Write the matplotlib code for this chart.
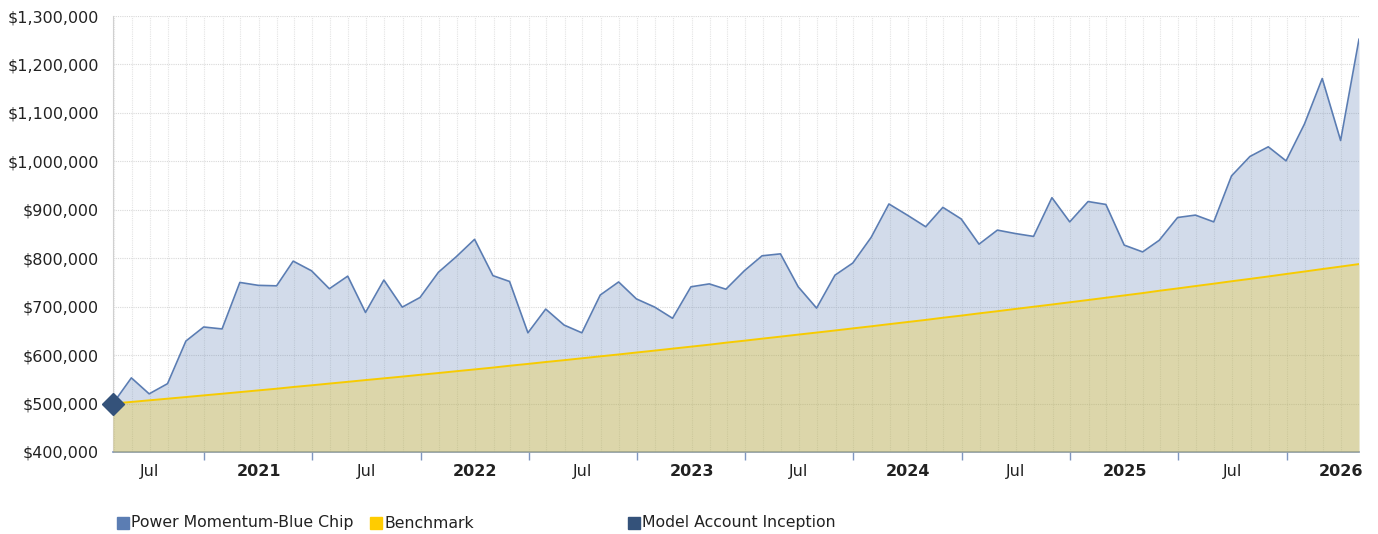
import matplotlib
matplotlib.use('Agg')
import matplotlib.pyplot as plt
import matplotlib.dates as mdates
from matplotlib.patches import Rectangle
from matplotlib.ticker import FuncFormatter, FixedLocator
import numpy as np
import pandas as pd

# month-end values, Apr 2020 .. Jan 2026 (in thousands of dollars)
dates = pd.date_range('2020-04-30', periods=70, freq='ME')
portfolio = [500, 553, 520, 541, 629, 658, 654, 750, 744, 743,
             794, 774, 737, 763, 688, 755, 699, 719, 771, 803,
             839, 764, 752, 646, 695, 662, 646, 724, 751, 716,
             699, 676, 741, 747, 736, 774, 805, 809, 741, 697,
             765, 790, 843, 912, 889, 865, 905, 881, 829, 858,
             851, 845, 925, 875, 917, 911, 827, 813, 837, 884,
             889, 875, 970, 1010, 1030, 1001, 1077, 1171, 1043, 1252]
benchmark = [500.0, 503.3, 506.6, 510.0, 513.4, 516.8, 520.2, 523.6, 527.1, 530.6,
             534.1, 537.6, 541.2, 544.8, 548.4, 552.0, 555.6, 559.3, 563.0, 566.7,
             570.4, 574.2, 578.0, 581.8, 585.7, 589.5, 593.4, 597.4, 601.3, 605.3,
             609.3, 613.3, 617.4, 621.5, 625.6, 629.7, 633.9, 638.1, 642.3, 646.5,
             650.8, 655.1, 659.4, 663.8, 668.2, 672.6, 677.1, 681.5, 686.1, 690.6,
             695.2, 699.8, 704.4, 709.0, 713.7, 718.4, 723.2, 728.0, 732.8, 737.6,
             742.5, 747.4, 752.4, 757.3, 762.3, 767.4, 772.5, 777.6, 782.7, 787.9]
portfolio = np.array(portfolio) * 1000
benchmark = np.array(benchmark) * 1000

inception_date = dates[0]
inception_value = 500000

label_dates = pd.date_range('2020-07-01', '2026-01-01', freq='6MS')
label_text = [d.strftime('%Y') if d.month == 1 else d.strftime('%b') for d in label_dates]
tick_dates = [d for d in pd.date_range('2020-04-01', '2026-01-31', freq='MS')
              if d.month in (4, 10) and d > dates[0]]
grid_dates = pd.date_range('2020-05-01', '2026-01-01', freq='MS')

blue = '#5b7db3'
yellow = '#f7cb00'
navy = '#34527a'
bottom = 400000

x = mdates.date2num(dates)

fig = plt.figure(figsize=(13.78, 5.34), dpi=100)
ax = fig.add_axes([0.082, 0.1536, 0.9042, 0.8164])

ax.fill_between(x, portfolio, bottom, color=blue, alpha=0.27, lw=0, zorder=2)
ax.plot(x, portfolio, color=blue, lw=1.2, zorder=4)
ax.fill_between(x, benchmark, bottom, color=yellow, alpha=0.27, lw=0, zorder=3)
ax.plot(x, benchmark, color=yellow, lw=1.4, zorder=5)
ax.plot([mdates.date2num(inception_date)], [inception_value], marker='D', ms=11,
        color=navy, zorder=6, clip_on=False, ls='none')

ax.set_xlim(x[0], x[-1])
ax.set_ylim(400000, 1300000)
ax.set_yticks(np.arange(400000, 1300001, 100000))
ax.yaxis.set_major_formatter(FuncFormatter(lambda v, p: '${:,.0f}'.format(v)))
ax.tick_params(axis='y', length=0, pad=10, labelsize=11.5, labelcolor='#222222')

ax.xaxis.set_major_locator(FixedLocator(mdates.date2num(tick_dates)))
ax.xaxis.set_minor_locator(FixedLocator(mdates.date2num(grid_dates)))
ax.xaxis.set_major_formatter(FuncFormatter(lambda v, p: ''))
ax.tick_params(axis='x', which='major', length=6, width=1, color='#7f96c0', direction='out')
ax.tick_params(axis='x', which='minor', length=0)

ax.grid(axis='y', color='#d9d9d9', ls=(0, (1, 1)), lw=0.8, zorder=1)
ax.grid(axis='x', which='both', color='#e4e4e4', ls=(0, (1, 1)), lw=0.8, zorder=1)
ax.set_axisbelow(True)

for s in ['top', 'right']:
    ax.spines[s].set_visible(False)
ax.spines['left'].set_color('#d0d0d0')
ax.spines['bottom'].set_color('#7f96c0')
ax.spines['bottom'].set_linewidth(1.2)

sec = ax.secondary_xaxis('bottom')
sec.set_xticks(mdates.date2num(label_dates), labels=label_text)
sec.tick_params(length=0, pad=9, labelsize=11.5, labelcolor='#222222')
sec.spines['bottom'].set_visible(False)
for lab in sec.get_xticklabels():
    if lab.get_text().isdigit():
        lab.set_fontweight('bold')

# legend
legend_items = [('Power Momentum-Blue Chip', blue, 117),
                ('Benchmark', '#ffcc00', 370),
                ('Model Account Inception', navy, 628)]
for name, col, px in legend_items:
    fig.patches.append(Rectangle((px / 1378, (534 - 529) / 534), 12 / 1378, 12 / 534,
                                 transform=fig.transFigure, color=col))
    fig.text((px + 14) / 1378, (534 - 523) / 534, name, fontsize=11.3,
             color='#222222', va='center', ha='left')

fig.savefig('out.png', dpi=100)
